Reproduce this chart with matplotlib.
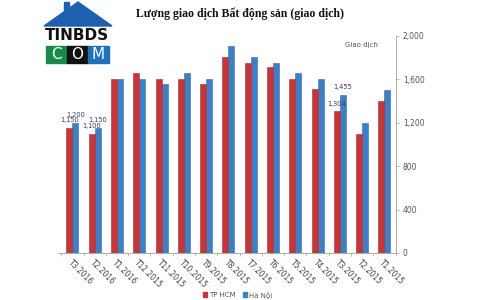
import matplotlib
matplotlib.use("Agg")
import matplotlib.pyplot as plt
from matplotlib.patches import Polygon, Rectangle
from matplotlib.lines import Line2D
import numpy as np

months = ["T1.2015", "T2.2015", "T3.2015", "T4.2015", "T5.2015", "T6.2015",
          "T7.2015", "T8.2015", "T9.2015", "T10.2015", "T11.2015", "T12.2015",
          "T1.2016", "T2.2016", "T3.2016"]
ha_noi = [1500, 1200, 1455, 1600, 1660, 1755, 1810, 1910, 1600, 1660, 1560, 1600, 1600, 1150, 1200]
tp_hcm = [1400, 1100, 1304, 1515, 1600, 1710, 1755, 1810, 1560, 1600, 1600, 1660, 1600, 1100, 1150]
labeled = ["T3.2015", "T2.2016", "T3.2016"]
yticks = [0, 400, 800, 1200, 1600, 2000]

c_red = "#C4363A"
c_blue = "#3F7FC6"

fig = plt.figure(figsize=(5, 3), dpi=100)
fig.patch.set_facecolor("white")
ax = fig.add_axes([0.116, 0.157, 0.676, 0.723])

x = np.arange(len(months))
w = 0.27
ax.bar(x - w / 2, ha_noi, w, color=c_blue, edgecolor="#2F6AAE", linewidth=0.4, label="Hà Nội")
ax.bar(x + w / 2, tp_hcm, w, color=c_red, edgecolor="#A82A2E", linewidth=0.4, label="TP HCM")

for i, m in enumerate(months):
    if m in labeled:
        ax.text(i - w / 2, ha_noi[i] + 45, f"{ha_noi[i]:,}", ha="center", va="bottom",
                fontsize=4.8, color="#3A3A5A")
        ax.text(i + w / 2, tp_hcm[i] + 45, f"{tp_hcm[i]:,}", ha="center", va="bottom",
                fontsize=4.8, color="#3A3A5A")

ax.set_xlim(len(months) - 1 + 0.65, -0.52)
ax.set_ylim(0, 2000)

for s in ["top", "left"]:
    ax.spines[s].set_visible(False)
ax.spines["right"].set_color("#A0A0A0")
ax.spines["bottom"].set_color("#A0A0A0")
ax.spines["right"].set_linewidth(0.6)
ax.spines["bottom"].set_linewidth(0.6)

ax.yaxis.tick_right()
ax.set_yticks(yticks)
ax.set_yticklabels([f"{v:,}" for v in yticks], fontsize=5.5, color="#555555")
ax.tick_params(axis="y", length=2, width=0.5, color="#A0A0A0", pad=3)

ax.set_xticks(x)
ax.set_xticklabels(months, rotation=-45, ha="left", rotation_mode="anchor",
                   fontsize=5.5, color="#444444")
ax.tick_params(axis="x", length=0, pad=4)
ax.set_xticks(np.arange(-0.5, len(months), 1), minor=True)
ax.tick_params(axis="x", which="minor", length=2, width=0.5, color="#A0A0A0")

fig.text(0.722, 0.853, "Giao dịch", fontsize=5, color="#555555", ha="center", va="center")

fig.text(0.48, 0.955, "Lượng giao dịch Bất động sản (giao dịch)", ha="center", va="center",
         fontsize=8.5, fontweight="bold", family="Liberation Serif", color="#111111")

handles = [Rectangle((0, 0), 1, 1, color=c_red), Rectangle((0, 0), 1, 1, color=c_blue)]
fig.legend(handles, ["TP HCM", "Hà Nội"], loc="center", bbox_to_anchor=(0.475, 0.018),
           ncol=2, fontsize=5, frameon=False, handlelength=0.6, handleheight=0.6,
           handletextpad=0.3, columnspacing=1.0, labelcolor="#555555")

# logo
lax = fig.add_axes([0, 0, 1, 1], facecolor="none")
lax.set_xlim(0, 500)
lax.set_ylim(300, 0)
lax.axis("off")
lax.add_patch(Polygon([[44, 26], [78, 2], [112, 26]], closed=True, color="#1F5FB0"))
lax.add_patch(Rectangle((64, 2), 5, 10, color="#1F5FB0"))
lax.text(77, 36, "TINBDS", ha="center", va="center", fontsize=11, fontweight="bold",
         color="#111111", family="DejaVu Sans")
cols = ["#1A8A4A", "#111111", "#1E73B8"]
for k, (ch, cc) in enumerate(zip("COM", cols)):
    lax.add_patch(Rectangle((46 + k * 21, 46), 21, 17, color=cc))
    lax.text(56.5 + k * 21, 54.5, ch, ha="center", va="center", fontsize=11,
             color="white", family="DejaVu Sans")

fig.savefig("out.png", dpi=100)
